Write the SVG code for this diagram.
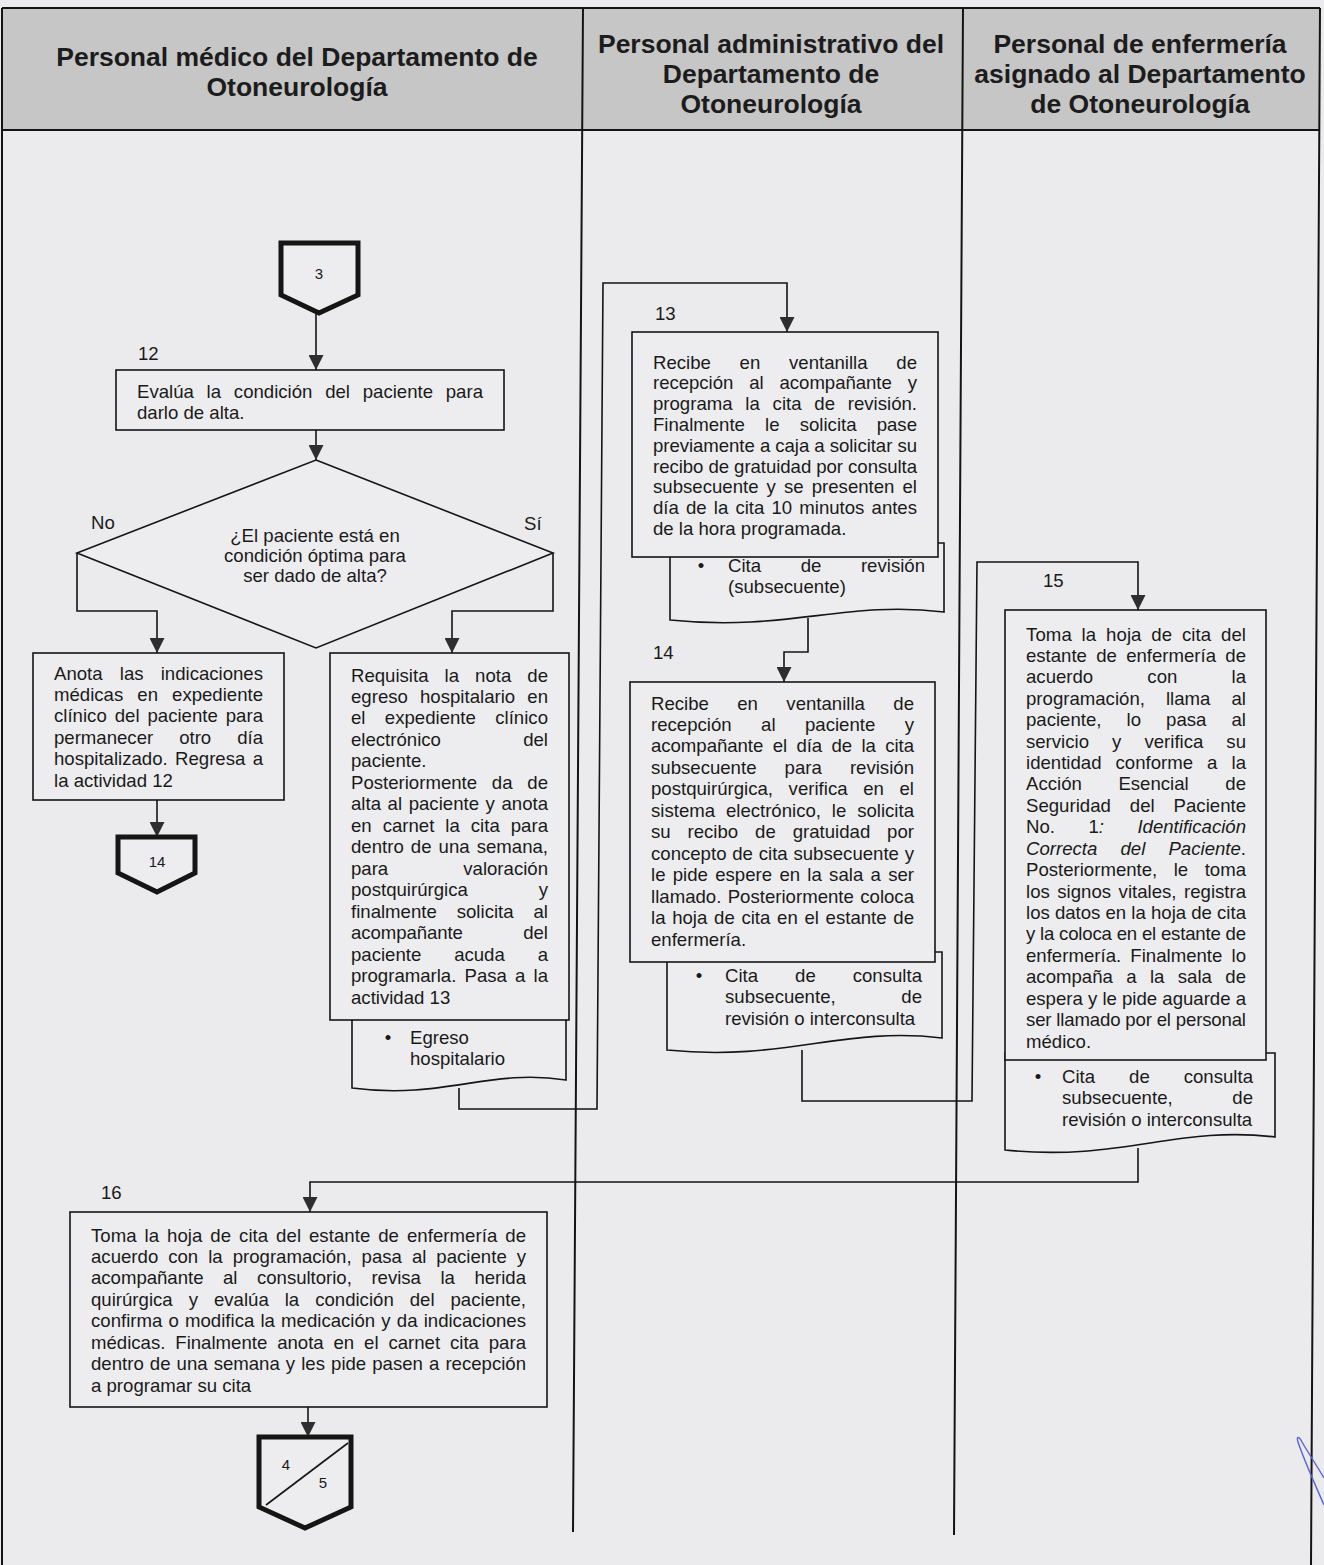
<svg xmlns="http://www.w3.org/2000/svg" width="1324" height="1565" viewBox="0 0 1324 1565">
<defs>
<style>
.bg{fill:#ebebed}
.hdr{fill:#c6c6c6}
.frame{fill:none;stroke:#141414;stroke-width:2}
.box{fill:#ededef;stroke:#151515;stroke-width:1.6}
.off{fill:#ededef;stroke:#151515;stroke-width:5;stroke-linejoin:miter}
.wire{fill:none;stroke:#151515;stroke-width:1.6}
.ht{font-family:"Liberation Sans",Arial,sans-serif;font-weight:bold;font-size:26.5px;fill:#1c1c1c;text-anchor:middle}
.t{font-family:"Liberation Sans",Arial,sans-serif;font-size:18.6px;fill:#1a1a1a}
.c{text-anchor:middle}
.n{font-family:"Liberation Sans",Arial,sans-serif;font-size:15px;fill:#1a1a1a;text-anchor:middle}
.i{font-style:italic}
</style>
<marker id="ah" viewBox="0 0 15 15" refX="15" refY="7.5" markerWidth="15" markerHeight="15" markerUnits="userSpaceOnUse" orient="auto">
<path d="M0,0 L15,7.5 L0,15 Z" fill="#2e2e2e"/>
</marker>
</defs>

<!-- page and swimlane frame -->
<rect class="bg" x="0" y="0" width="1324" height="1565"/>
<g id="lanes">
<rect class="hdr" x="2" y="8" width="1318" height="122"/>
<path class="frame" d="M2,8 H1320 M2,130 H1320 M2,8 V1565 M1320,8 L1311,1565 M583,8 L573,1532 M963,8 L954,1535"/>
<text class="ht" x="297" y="66">Personal médico del Departamento de</text>
<text class="ht" x="297" y="96">Otoneurología</text>
<text class="ht" x="771" y="53">Personal administrativo del</text>
<text class="ht" x="771" y="83">Departamento de</text>
<text class="ht" x="771" y="113">Otoneurología</text>
<text class="ht" x="1140" y="53">Personal de enfermería</text>
<text class="ht" x="1140" y="83">asignado al Departamento</text>
<text class="ht" x="1140" y="113">de Otoneurología</text>
</g>

<!-- connectors (drawn under the nodes) -->
<g id="connectors">
<path class="wire" d="M316,313 V370" marker-end="url(#ah)"/>
<path class="wire" d="M316,430 V460" marker-end="url(#ah)"/>
<path class="wire" d="M77,553 V611 H157 V653" marker-end="url(#ah)"/>
<path class="wire" d="M553,553 V611 H452 V653" marker-end="url(#ah)"/>
<path class="wire" d="M157,800 V837" marker-end="url(#ah)"/>
<path class="wire" d="M459,1088 V1109 H597 L603,283 H787 V332" marker-end="url(#ah)"/>
<path class="wire" d="M808,618 V652 H784 V682" marker-end="url(#ah)"/>
<path class="wire" d="M802,1050 V1101 H972 L977,562 H1138 V610" marker-end="url(#ah)"/>
<path class="wire" d="M1138,1148 V1182 H310 V1212" marker-end="url(#ah)"/>
<path class="wire" d="M308,1407 V1437" marker-end="url(#ah)"/>
<text class="t" x="91" y="529">No</text>
<text class="t" x="524" y="530">Sí</text>
</g>

<!-- off-page connector 3 -->
<g id="off3">
<path class="off" d="M281,243 H358 V295 L319,313 L281,295 Z"/>
<text class="n" x="319" y="279">3</text>
</g>

<!-- activity 12 -->
<g id="act12">
<text class="t" x="138" y="359.5">12</text>
<rect class="box" x="116" y="370" width="388" height="60"/>
<text class="t" x="137" y="398" textLength="346" style="word-spacing:7.6px">Evalúa la condición del paciente para</text>
<text class="t" x="137" y="419">darlo de alta.</text>
</g>

<!-- decision -->
<g id="decision">
<path class="box" d="M316,460 L553,553 L316,648 L77,553 Z"/>
<text class="t c" x="315" y="541.5">¿El paciente está en</text>
<text class="t c" x="315" y="561.5">condición óptima para</text>
<text class="t c" x="315" y="581.5">ser dado de alta?</text>
</g>

<!-- stay in hospital -->
<g id="stay">
<rect class="box" x="33" y="653" width="251" height="147"/>
<text class="t" x="54" y="679.5" textLength="209" style="word-spacing:12px">Anota las indicaciones</text>
<text class="t" x="54" y="700.9" textLength="209" style="word-spacing:8.9px">médicas en expediente</text>
<text class="t" x="54" y="722.3" textLength="209" style="word-spacing:2.8px">clínico del paciente para</text>
<text class="t" x="54" y="743.7" textLength="209" style="word-spacing:20.8px">permanecer otro día</text>
<text class="t" x="54" y="765.1" textLength="209" style="word-spacing:2.2px">hospitalizado. Regresa a</text>
<text class="t" x="54" y="786.5">la actividad 12</text>
</g>

<!-- off-page connector 14 -->
<g id="off14">
<path class="off" d="M118,837 H195 V873 L157,892 L118,873 Z"/>
<text class="n" x="157" y="867">14</text>
</g>

<!-- discharge -->
<g id="discharge">
<path class="box" d="M352,1010 H566 V1080 C489,1068 444,1100 352,1088 Z"/>
<rect class="box" x="330" y="653" width="239" height="367"/>
<text class="t" x="351" y="681.5" textLength="197" style="word-spacing:10.9px">Requisita la nota de</text>
<text class="t" x="351" y="703" textLength="197" style="word-spacing:7px">egreso hospitalario en</text>
<text class="t" x="351" y="724.4" textLength="197" style="word-spacing:14.2px">el expediente clínico</text>
<text class="t" x="351" y="745.9" textLength="197" style="word-spacing:77.1px">electrónico del</text>
<text class="t" x="351" y="767.4">paciente.</text>
<text class="t" x="351" y="788.9" textLength="197" style="word-spacing:9.6px">Posteriormente da de</text>
<text class="t" x="351" y="810.3" textLength="197" style="word-spacing:1.4px">alta al paciente y anota</text>
<text class="t" x="351" y="831.8" textLength="197" style="word-spacing:5.8px">en carnet la cita para</text>
<text class="t" x="351" y="853.3" textLength="197" style="word-spacing:1.9px">dentro de una semana,</text>
<text class="t" x="351" y="874.7" textLength="197" style="word-spacing:69.9px">para valoración</text>
<text class="t" x="351" y="896.2" textLength="197" style="word-spacing:65.7px">postquirúrgica y</text>
<text class="t" x="351" y="917.7" textLength="197" style="word-spacing:14.8px">finalmente solicita al</text>
<text class="t" x="351" y="939.1" textLength="197" style="word-spacing:55.4px">acompañante del</text>
<text class="t" x="351" y="960.6" textLength="197" style="word-spacing:27.7px">paciente acuda a</text>
<text class="t" x="351" y="982.1" textLength="197" style="word-spacing:3px">programarla. Pasa a la</text>
<text class="t" x="351" y="1003.6">actividad 13</text>
<text class="t c" x="388" y="1043.5">•</text>
<text class="t" x="410" y="1043.5">Egreso</text>
<text class="t" x="410" y="1064.5">hospitalario</text>
</g>

<!-- activity 13 -->
<g id="act13">
<text class="t" x="655" y="319.5">13</text>
<path class="box" d="M670,543 H944 V612 C845,600 788,632 670,620 Z"/>
<rect class="box" x="632" y="332" width="306" height="225"/>
<text class="t" x="653" y="368.5" textLength="264" style="word-spacing:23.6px">Recibe en ventanilla de</text>
<text class="t" x="653" y="389.3" textLength="264" style="word-spacing:10.8px">recepción al acompañante y</text>
<text class="t" x="653" y="410.1" textLength="264" style="word-spacing:7.6px">programa la cita de revisión.</text>
<text class="t" x="653" y="430.9" textLength="264" style="word-spacing:15px">Finalmente le solicita pase</text>
<text class="t" x="653" y="451.7" textLength="264">previamente a caja a solicitar su</text>
<text class="t" x="653" y="472.5" textLength="264">recibo de gratuidad por consulta</text>
<text class="t" x="653" y="493.3" textLength="264" style="word-spacing:2.9px">subsecuente y se presenten el</text>
<text class="t" x="653" y="514.1" textLength="264" style="word-spacing:2px">día de la cita 10 minutos antes</text>
<text class="t" x="653" y="534.9">de la hora programada.</text>
<text class="t c" x="701" y="571.5">•</text>
<text class="t" x="728" y="571.5" textLength="197" style="word-spacing:34.4px">Cita de revisión</text>
<text class="t" x="728" y="592.5">(subsecuente)</text>
</g>

<!-- activity 14 -->
<g id="act14">
<text class="t" x="653" y="658.5">14</text>
<path class="box" d="M667,952 H942 V1038 C843,1026 785,1062 667,1050 Z"/>
<rect class="box" x="630" y="682" width="305" height="280"/>
<text class="t" x="651" y="709.5" textLength="263" style="word-spacing:23.2px">Recibe en ventanilla de</text>
<text class="t" x="651" y="731" textLength="263" style="word-spacing:24.3px">recepción al paciente y</text>
<text class="t" x="651" y="752.4" textLength="263" style="word-spacing:4.2px">acompañante el día de la cita</text>
<text class="t" x="651" y="773.9" textLength="263" style="word-spacing:22.9px">subsecuente para revisión</text>
<text class="t" x="651" y="795.3" textLength="263" style="word-spacing:10.5px">postquirúrgica, verifica en el</text>
<text class="t" x="651" y="816.8" textLength="263" style="word-spacing:5.7px">sistema electrónico, le solicita</text>
<text class="t" x="651" y="838.2" textLength="263" style="word-spacing:11.7px">su recibo de gratuidad por</text>
<text class="t" x="651" y="859.7" textLength="263" style="word-spacing:0.6px">concepto de cita subsecuente y</text>
<text class="t" x="651" y="881.1" textLength="263" style="word-spacing:2.1px">le pide espere en la sala a ser</text>
<text class="t" x="651" y="902.6" textLength="263" style="word-spacing:1.2px">llamado. Posteriormente coloca</text>
<text class="t" x="651" y="924" textLength="263" style="word-spacing:1.5px">la hoja de cita en el estante de</text>
<text class="t" x="651" y="945.5">enfermería.</text>
<text class="t c" x="699" y="981.5">•</text>
<text class="t" x="725" y="981.5" textLength="197" style="word-spacing:31.8px">Cita de consulta</text>
<text class="t" x="725" y="1003" textLength="197" style="word-spacing:60.5px">subsecuente, de</text>
<text class="t" x="725" y="1024.5">revisión o interconsulta</text>
</g>

<!-- activity 15 -->
<g id="act15">
<text class="t" x="1043" y="586.5">15</text>
<path class="box" d="M1005,1053 H1275 V1137 C1178,1125 1121,1162 1005,1150 Z"/>
<rect class="box" x="1005" y="610" width="261" height="450"/>
<text class="t" x="1026" y="640.5" textLength="220" style="word-spacing:4.5px">Toma la hoja de cita del</text>
<text class="t" x="1026" y="661.9" textLength="220" style="word-spacing:4.1px">estante de enfermería de</text>
<text class="t" x="1026" y="683.3" textLength="220" style="word-spacing:49px">acuerdo con la</text>
<text class="t" x="1026" y="704.8" textLength="220" style="word-spacing:15.9px">programación, llama al</text>
<text class="t" x="1026" y="726.2" textLength="220" style="word-spacing:19.9px">paciente, lo pasa al</text>
<text class="t" x="1026" y="747.6" textLength="220" style="word-spacing:17.9px">servicio y verifica su</text>
<text class="t" x="1026" y="769" textLength="220" style="word-spacing:8.9px">identidad conforme a la</text>
<text class="t" x="1026" y="790.4" textLength="220" style="word-spacing:31.4px">Acción Esencial de</text>
<text class="t" x="1026" y="811.9" textLength="220" style="word-spacing:13.8px">Seguridad del Paciente</text>
<text class="t" x="1026" y="833.3" textLength="220" style="word-spacing:28.3px">No. 1<tspan class="i">: Identificación</tspan></text>
<text class="t" x="1026" y="854.7" textLength="220" style="word-spacing:18px"><tspan class="i">Correcta del Paciente</tspan>.</text>
<text class="t" x="1026" y="876.1" textLength="220" style="word-spacing:11.3px">Posteriormente, le toma</text>
<text class="t" x="1026" y="897.5" textLength="220" style="word-spacing:2.4px">los signos vitales, registra</text>
<text class="t" x="1026" y="919" textLength="220">los datos en la hoja de cita</text>
<text class="t" x="1026" y="940.4" textLength="220">y la coloca en el estante de</text>
<text class="t" x="1026" y="961.8" textLength="220" style="word-spacing:4px">enfermería. Finalmente lo</text>
<text class="t" x="1026" y="983.2" textLength="220" style="word-spacing:8.2px">acompaña a la sala de</text>
<text class="t" x="1026" y="1004.6" textLength="220">espera y le pide aguarde a</text>
<text class="t" x="1026" y="1026.1" textLength="220">ser llamado por el personal</text>
<text class="t" x="1026" y="1047.5">médico.</text>
<text class="t c" x="1038" y="1082.5">•</text>
<text class="t" x="1062" y="1082.5" textLength="191" style="word-spacing:28.8px">Cita de consulta</text>
<text class="t" x="1062" y="1104" textLength="191" style="word-spacing:54.5px">subsecuente, de</text>
<text class="t" x="1062" y="1125.5">revisión o interconsulta</text>
</g>

<!-- activity 16 -->
<g id="act16">
<text class="t" x="101" y="1198.5">16</text>
<rect class="box" x="70" y="1212" width="477" height="195"/>
<text class="t" x="91" y="1241.5" textLength="435" style="word-spacing:2.7px">Toma la hoja de cita del estante de enfermería de</text>
<text class="t" x="91" y="1262.9" textLength="435" style="word-spacing:4.8px">acuerdo con la programación, pasa al paciente y</text>
<text class="t" x="91" y="1284.4" textLength="435" style="word-spacing:14.4px">acompañante al consultorio, revisa la herida</text>
<text class="t" x="91" y="1305.8" textLength="435" style="word-spacing:10.8px">quirúrgica y evalúa la condición del paciente,</text>
<text class="t" x="91" y="1327.2" textLength="435" style="word-spacing:1px">confirma o modifica la medicación y da indicaciones</text>
<text class="t" x="91" y="1348.7" textLength="435" style="word-spacing:4.7px">médicas. Finalmente anota en el carnet cita para</text>
<text class="t" x="91" y="1370.1" textLength="435" style="word-spacing:0.9px">dentro de una semana y les pide pasen a recepción</text>
<text class="t" x="91" y="1391.5">a programar su cita</text>
</g>

<!-- off-page connector 4/5 -->
<g id="off45">
<path class="off" d="M259,1437 H351 V1507 L305,1528 L259,1507 Z"/>
<path d="M266,1505 L348,1443" stroke="#151515" stroke-width="1.6" fill="none"/>
<text class="n" x="286" y="1470">4</text>
<text class="n" x="323" y="1488">5</text>
</g>

<!-- pen mark in the margin -->
<path d="M1324,1505 C1314,1482 1304,1460 1298,1442 C1296,1436 1299,1436 1302,1442 C1309,1454 1317,1466 1324,1478" fill="none" stroke="#5a62d4" stroke-width="1.4"/>
</svg>
